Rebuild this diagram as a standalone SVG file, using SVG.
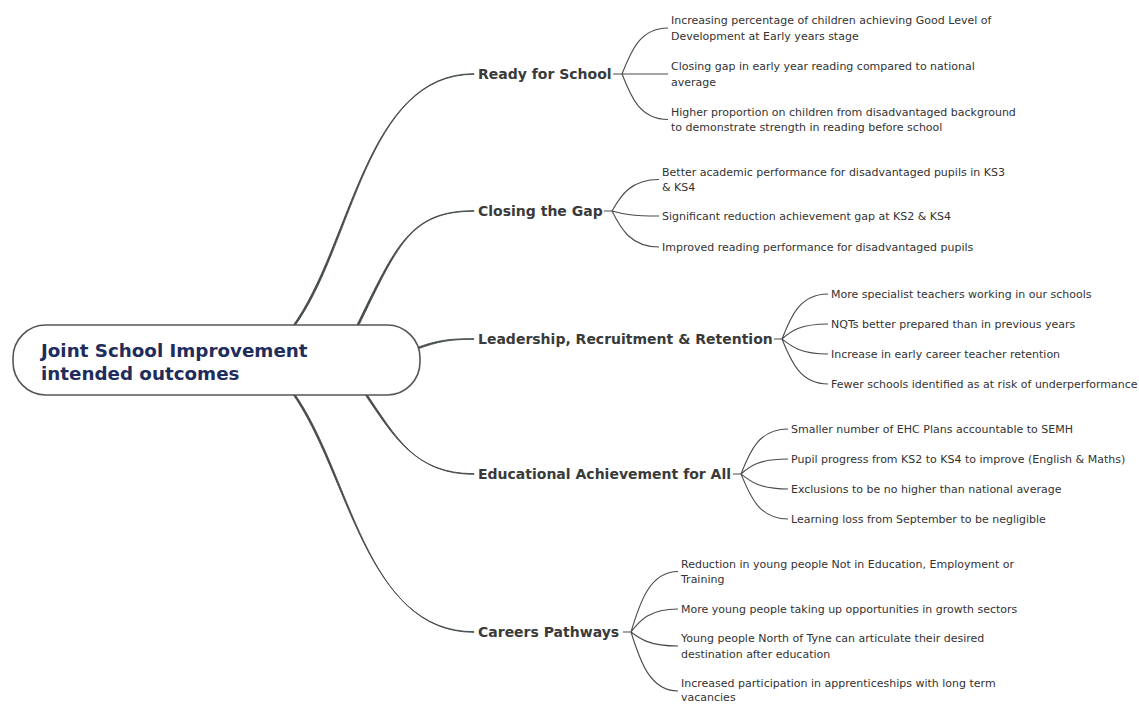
<svg xmlns="http://www.w3.org/2000/svg" width="1139" height="704" viewBox="0 0 1139 704">
<style>
.root{font-family:"DejaVu Sans",Verdana,sans-serif;font-weight:bold;font-size:18.3px;fill:#1f2d5c}
.br{font-family:"DejaVu Sans",Verdana,sans-serif;font-weight:bold;font-size:14px;fill:#3a3a3a}
.lf{font-family:"DejaVu Sans",Verdana,sans-serif;font-size:11px;fill:#333}
.main{fill:#454b4b;stroke:#454b4b;stroke-width:0.9;stroke-linejoin:round}
.sub{fill:none;stroke:#4a4a4a;stroke-width:1.1}
</style>
<rect width="1139" height="704" fill="#ffffff"/>
<g id="connectors">
<path class="main" d="M292,327 C352,245 365,73.7 474,73.7 L474,74.3 C365,74.3 354,245 294,327 Z"/>
<path class="main" d="M356,327 C396,245 410,210.7 474,210.7 L474,211.3 C410,211.3 398,245 358,327 Z"/>
<path class="main" d="M418,347.2 C438,340.2 448,338.7 474,338.7 L474,339.3 C448,339.3 438,341.8 418,348.8 Z"/>
<path class="main" d="M364,393 C394,437 415,473.7 474,473.7 L474,474.3 C415,474.3 396,437 366,393 Z"/>
<path class="main" d="M292,393 C349,473 365,631.7 474,631.7 L474,632.3 C365,632.3 351,473 294,393 Z"/>
<!-- Ready for School -->
<path class="sub" d="M613,74 H622 M622,74 C631,51 640,28 668,28 M622,74 H668 M622,74 C631,97 640,119.5 668,119.5"/>
<!-- Closing the Gap -->
<path class="sub" d="M604,211 H612 M612,211 C621,195 631,179.5 659,179.5 M612,211 C621,213.5 631,216 659,216 M612,211 C621,229 631,247 659,247"/>
<!-- Leadership -->
<path class="sub" d="M774,339 H782 M782,339 C791,316 800,294 828,294 M782,339 C791,331 800,324 828,324 M782,339 C791,346 800,354 828,354 M782,339 C791,361 800,384 828,384"/>
<!-- Educational -->
<path class="sub" d="M733,474 H741 M741,474 C750,451 759,429 788,429 M741,474 C750,466 759,459 788,459 M741,474 C750,481 759,489 788,489 M741,474 C750,496 759,519 788,519"/>
<!-- Careers -->
<path class="sub" d="M623,632 H631 M631,632 C640,602 650,571.5 678,571.5 M631,632 C640,620 650,609 678,609 M631,632 C640,639 650,646 678,646 M631,632 C640,661 650,691 678,691"/>
</g>
<g id="root">
<rect x="13" y="325" width="407" height="70" rx="33" ry="33" fill="#ffffff" stroke="#555" stroke-width="1.6"/>
<text class="root" x="41" y="357">Joint School Improvement</text>
<text class="root" x="41" y="380">intended outcomes</text>
</g>
<g id="ready">
<text class="br" x="478" y="79">Ready for School</text>
<text class="lf" x="671" y="24">Increasing percentage of children achieving Good Level of</text>
<text class="lf" x="671" y="40">Development at Early years stage</text>
<text class="lf" x="671" y="70">Closing gap in early year reading compared to national</text>
<text class="lf" x="671" y="86">average</text>
<text class="lf" x="671" y="116">Higher proportion on children from disadvantaged background</text>
<text class="lf" x="671" y="131">to demonstrate strength in reading before school</text>
</g>
<g id="gap">
<text class="br" x="478" y="216">Closing the Gap</text>
<text class="lf" x="662" y="176">Better academic performance for disadvantaged pupils in KS3</text>
<text class="lf" x="662" y="191">&amp; KS4</text>
<text class="lf" x="662" y="220">Significant reduction achievement gap at KS2 &amp; KS4</text>
<text class="lf" x="662" y="251">Improved reading performance for disadvantaged pupils</text>
</g>
<g id="leadership">
<text class="br" x="478" y="344">Leadership, Recruitment &amp; Retention</text>
<text class="lf" x="831" y="298">More specialist teachers working in our schools</text>
<text class="lf" x="831" y="328">NQTs better prepared than in previous years</text>
<text class="lf" x="831" y="358">Increase in early career teacher retention</text>
<text class="lf" x="831" y="388">Fewer schools identified as at risk of underperformance</text>
</g>
<g id="educational">
<text class="br" x="478" y="479">Educational Achievement for All</text>
<text class="lf" x="791" y="433">Smaller number of EHC Plans accountable to SEMH</text>
<text class="lf" x="791" y="463">Pupil progress from KS2 to KS4 to improve (English &amp; Maths)</text>
<text class="lf" x="791" y="493">Exclusions to be no higher than national average</text>
<text class="lf" x="791" y="523">Learning loss from September to be negligible</text>
</g>
<g id="careers">
<text class="br" x="478" y="637">Careers Pathways</text>
<text class="lf" x="681" y="568">Reduction in young people Not in Education, Employment or</text>
<text class="lf" x="681" y="583">Training</text>
<text class="lf" x="681" y="613">More young people taking up opportunities in growth sectors</text>
<text class="lf" x="681" y="642">Young people North of Tyne can articulate their desired</text>
<text class="lf" x="681" y="658">destination after education</text>
<text class="lf" x="681" y="687">Increased participation in apprenticeships with long term</text>
<text class="lf" x="681" y="701">vacancies</text>
</g>
</svg>
